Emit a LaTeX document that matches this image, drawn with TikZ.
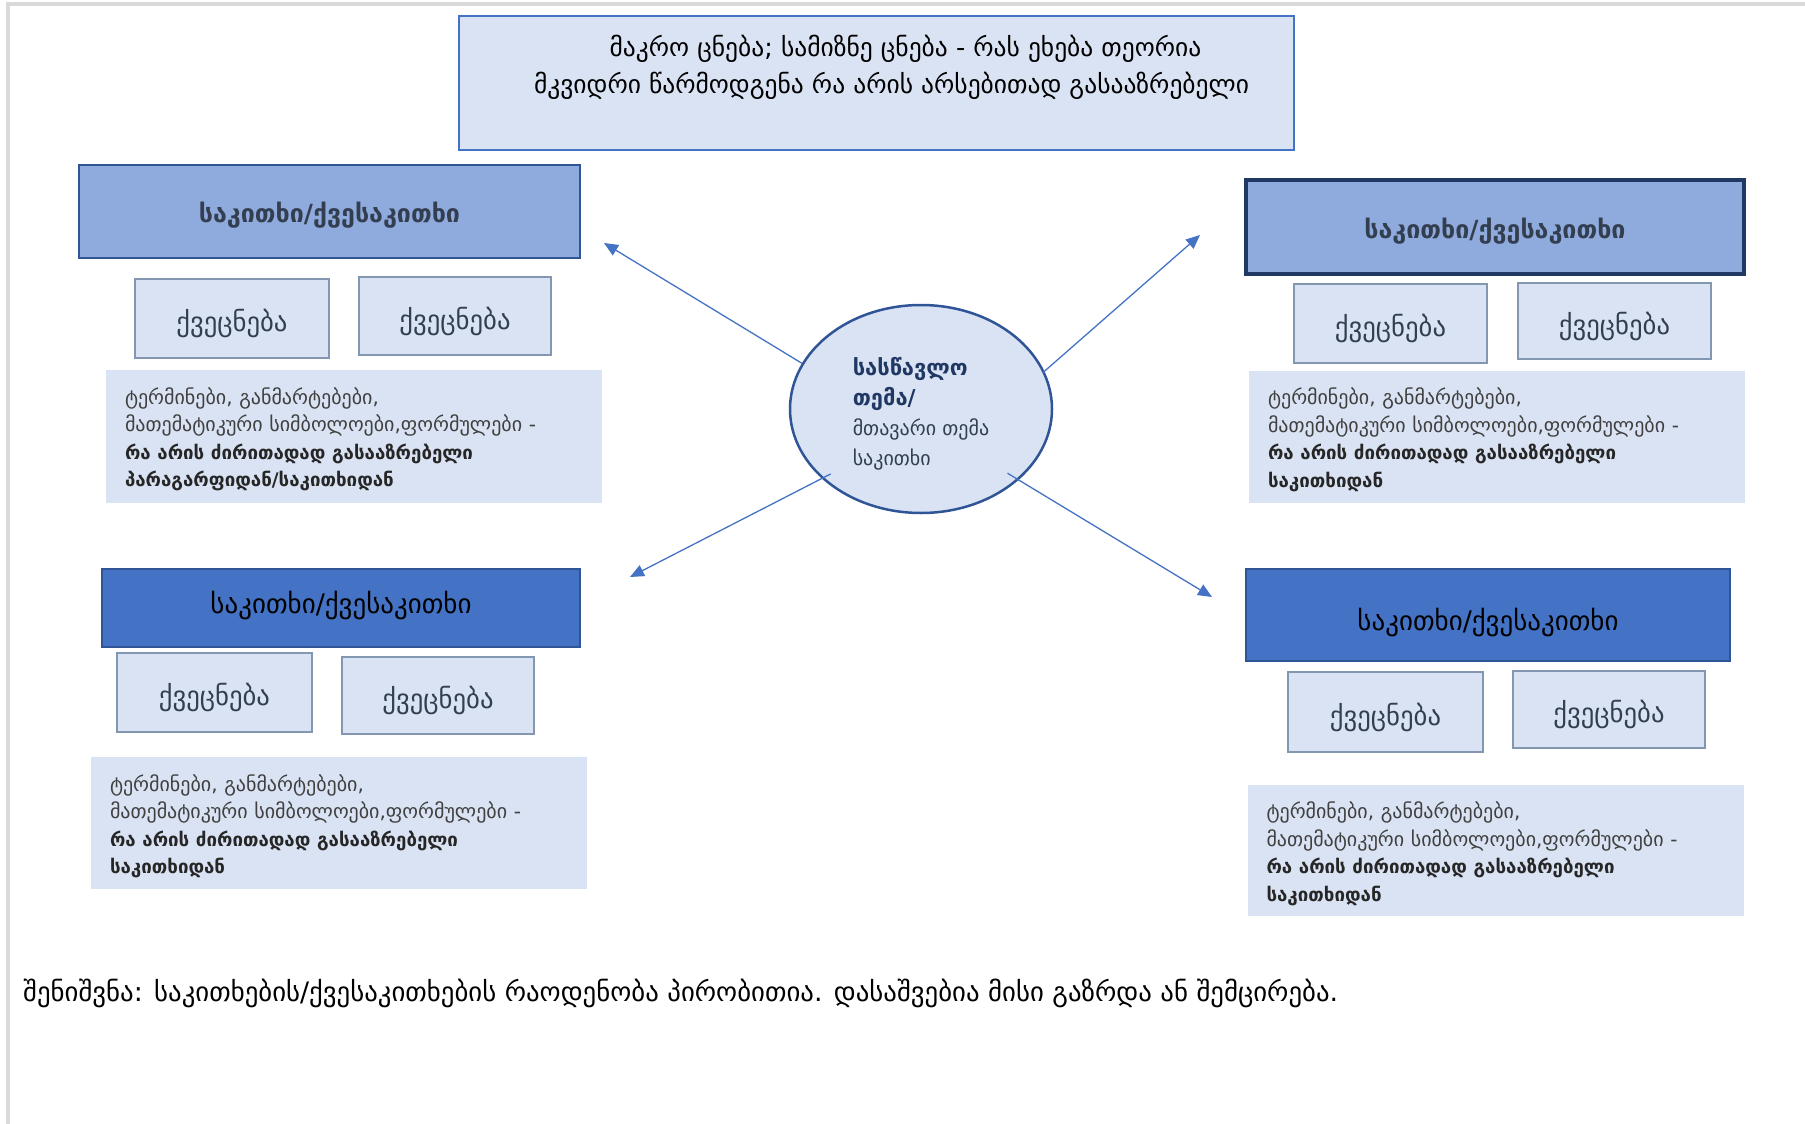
\documentclass[tikz,border=0pt]{standalone}
\usepackage{fontspec}
\setmainfont{DejaVu Sans}
\usepackage{xcolor}
\usetikzlibrary{arrows.meta,shapes.geometric}
\definecolor{paleblue}{HTML}{DAE3F3}
\definecolor{midblue}{HTML}{8FAADC}
\definecolor{deepblue}{HTML}{4472C4}
\definecolor{edgeblue}{HTML}{2F5597}
\definecolor{navy}{HTML}{203864}
\definecolor{slate}{HTML}{333F50}
\definecolor{cardedge}{HTML}{8497B0}
\definecolor{framegray}{HTML}{D9D9D9}
\definecolor{bodygray}{HTML}{404040}
\newcommand{\keyline}[1]{{\fontsize{18.7}{27.5}\selectfont\bfseries\color{black!85}#1}}

\begin{document}
\begin{tikzpicture}[x=1pt, y=-1pt,
    topic/.style={draw=edgeblue, line width=2, fill=midblue, inner sep=0, text height=27pt, text depth=4.5pt, text=slate, font=\fontsize{25}{29}\selectfont\bfseries},
    topicdark/.style={draw=edgeblue, line width=2, fill=deepblue, inner sep=0, text height=14pt, text depth=4pt, text=black, font=\fontsize{27}{31}\selectfont},
    subcard/.style={draw=cardedge, line width=1.3, fill=paleblue, inner sep=0, text height=30pt, text depth=4pt, text=slate, font=\fontsize{26.7}{31}\selectfont},
    terms/.style={fill=paleblue, minimum width=496, inner xsep=19, inner ysep=0, text width=458, align=left, text=bodygray, font=\fontsize{20}{27.5}\selectfont},
    link/.style={draw=deepblue, line width=1.3, -{Triangle[length=14pt, width=12pt]}}]
    \useasboundingbox (0,0) rectangle (1805,1124);
    \draw[framegray, line width=4] (8,1124) -- (8,4) -- (1805,4);

    \node[draw=deepblue, line width=1.5, fill=paleblue, minimum width=835, minimum height=134, inner sep=0, align=center, font=\fontsize{25.5}{37}\selectfont] (macro) at (876.5,83) {\hspace*{58pt}მაკრო ცნება; სამიზნე ცნება - რას ეხება თეორია\\\hspace*{30pt}მკვიდრი წარმოდგენა რა არის არსებითად გასააზრებელი\\\mbox{}};

    \node[ellipse, draw=edgeblue, line width=2.5, fill=paleblue, minimum width=262, minimum height=208, inner sep=0, align=left, text=slate, font=\fontsize{20}{30}\selectfont] (theme) at (921,409) {\rule{0pt}{28pt}\textcolor{navy}{\fontsize{21.9}{30}\selectfont\bfseries სასწავლო}\\\textcolor{navy}{\fontsize{21.9}{30}\selectfont\bfseries თემა/}\\მთავარი თემა\\საკითხი};

    \node[topic, minimum width=501, minimum height=93] (nwtopic) at (329.5,211.5) {საკითხი/ქვესაკითხი};
    \node[subcard, minimum width=194, minimum height=79] (nwsub1) at (232,318.5) {ქვეცნება};
    \node[subcard, minimum width=192, minimum height=78] (nwsub2) at (455,316) {ქვეცნება};
    \node[terms, minimum height=133] (nwterms) at (354,436.5) {\rule{0pt}{22pt}ტერმინები, განმარტებები,\\მათემატიკური სიმბოლოები,ფორმულები -\\\keyline{რა არის ძირითადად გასააზრებელი}\\\keyline{პარაგარფიდან/საკითხიდან}};

    \node[topic, draw=navy, line width=3.5, minimum width=498, minimum height=94] (netopic) at (1495,227) {საკითხი/ქვესაკითხი};
    \node[subcard, minimum width=193, minimum height=79] (nesub1) at (1390.5,323.5) {ქვეცნება};
    \node[subcard, minimum width=193, minimum height=76] (nesub2) at (1614.5,321) {ქვეცნება};
    \node[terms, minimum height=132] (neterms) at (1497,437) {\rule{0pt}{22pt}ტერმინები, განმარტებები,\\მათემატიკური სიმბოლოები,ფორმულები -\\\keyline{რა არის ძირითადად გასააზრებელი}\\\keyline{საკითხიდან}};

    \node[topicdark, minimum width=478, minimum height=78] (swtopic) at (341,608) {საკითხი/ქვესაკითხი};
    \node[subcard, minimum width=195, minimum height=79] (swsub1) at (214.5,692.5) {ქვეცნება};
    \node[subcard, minimum width=192, minimum height=77] (swsub2) at (438,695.5) {ქვეცნება};
    \node[terms, minimum height=132] (swterms) at (339,823) {\rule{0pt}{23pt}ტერმინები, განმარტებები,\\მათემატიკური სიმბოლოები,ფორმულები -\\\keyline{რა არის ძირითადად გასააზრებელი}\\\keyline{საკითხიდან}};

    \node[topicdark, text height=34pt, text depth=4pt, minimum width=484, minimum height=92] (setopic) at (1488,615) {საკითხი/ქვესაკითხი};
    \node[subcard, minimum width=195, minimum height=80] (sesub1) at (1385.5,712) {ქვეცნება};
    \node[subcard, minimum width=192, minimum height=77] (sesub2) at (1609,709.5) {ქვეცნება};
    \node[terms, minimum height=131] (seterms) at (1495.5,850.5) {\rule{0pt}{23pt}ტერმინები, განმარტებები,\\მათემატიკური სიმბოლოები,ფორმულები -\\\keyline{რა არის ძირითადად გასააზრებელი}\\\keyline{საკითხიდან}};

    \coordinate (nwtip) at (604,243);
    \coordinate (netip) at (1200,235);
    \coordinate (swtip) at (630,577);
    \coordinate (setip) at (1212,597);
    \draw[link] (theme.159) -- (nwtip);
    \draw[link, shorten <=-2] (theme.17) -- (netip);
    \draw[link, shorten <=-10] (theme.215) -- (swtip);
    \draw[link, shorten <=-13] (theme.-36) -- (setip);

    \node[anchor=west, inner sep=0, font=\fontsize{26.8}{30}\selectfont] (footnote) at (23,993) {შენიშვნა: საკითხების/ქვესაკითხების რაოდენობა პირობითია. დასაშვებია მისი გაზრდა ან შემცირება.};
\end{tikzpicture}
\end{document}
